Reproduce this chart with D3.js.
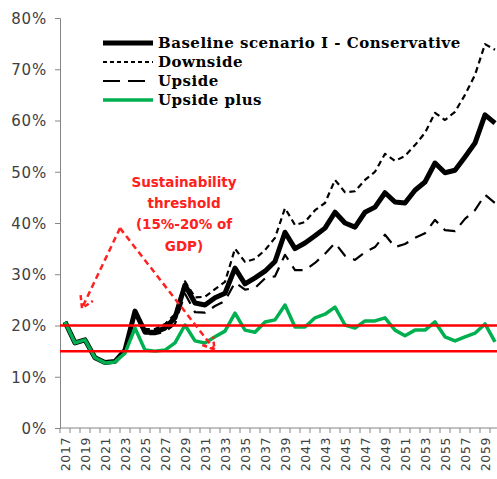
<!DOCTYPE html>
<html>
<head>
<meta charset="utf-8">
<script src="https://cdn.jsdelivr.net/npm/d3@7"></script>
<style>
  html, body { margin: 0; padding: 0; background: #fff; }
  svg { display: block; }
</style>
</head>
<body>
<svg id="chart" width="497" height="479"></svg>
<script>
const years = [2017,2018,2019,2020,2021,2022,2023,2024,2025,2026,2027,2028,2029,2030,2031,2032,2033,2034,2035,2036,2037,2038,2039,2040,2041,2042,2043,2044,2045,2046,2047,2048,2049,2050,2051,2052,2053,2054,2055,2056,2057,2058,2059,2060];

const baseline = [20.7,16.6,17.2,13.7,12.8,13.0,15.2,22.8,18.7,18.7,19.5,21.5,27.9,24.4,24.0,25.4,26.3,31.2,28.1,29.3,30.6,32.5,38.2,35.0,36.1,37.5,39.0,42.1,40.0,39.2,42.1,43.1,45.9,44.1,43.9,46.4,48.0,51.7,49.8,50.3,52.9,55.6,61.1,59.5];

const downside = [20.7,16.6,17.2,13.7,12.8,13.0,15.2,22.8,19.3,19.3,20.3,22.2,28.6,25.5,25.6,27.1,28.5,35.0,32.4,33.0,34.7,37.1,42.9,39.6,40.2,42.5,43.9,48.4,46.0,46.2,48.4,50.0,53.5,52.1,53.1,55.2,57.6,61.5,60.1,61.7,65.0,68.9,74.9,73.8];

const upside = [20.7,16.6,17.2,13.7,12.8,13.0,15.2,22.8,18.3,18.3,18.8,20.3,26.2,22.6,22.5,23.8,24.8,28.4,27.0,27.3,29.2,29.6,33.8,30.8,30.8,32.2,34.0,36.1,33.6,32.8,34.3,35.3,37.7,35.3,35.9,37.1,38.0,40.6,38.6,38.4,40.8,42.5,45.5,43.9];

const upsidePlus = [20.7,16.6,17.2,13.7,12.7,12.9,14.6,19.5,15.2,15.0,15.2,16.6,20.1,17.0,16.6,17.8,18.9,22.4,19.1,18.7,20.7,21.1,24.0,19.7,19.7,21.5,22.2,23.6,20.1,19.5,20.9,20.9,21.5,19.1,18.0,19.1,19.1,20.7,17.8,17.0,17.8,18.5,20.3,16.8];

const seriesNames = ["Baseline scenario I - Conservative","Downside","Upside","Upside plus"];
const yTicks = [0,10,20,30,40,50,60,70,80];
const xLabelYears = [2017,2019,2021,2023,2025,2027,2029,2031,2033,2035,2037,2039,2041,2043,2045,2047,2049,2051,2053,2055,2057,2059];
const thresholds = [15,20];
const annotationLines = ["Sustainability","threshold","(15%-20% of","GDP)"];

const svg = d3.select("#chart");
const W = 497, H = 479;

const x = d3.scaleBand().domain(years).range([60, 500]).padding(0);
const xc = d => x(d) + x.bandwidth()/2;
const xi = d3.scaleLinear().domain([0, years.length]).range([60, 500]);
const y = d3.scaleLinear().domain([0, 80]).range([428, 18]);

// Y axis
const yAxis = d3.axisLeft(y).tickValues(yTicks).tickFormat(d => d + "%").tickSize(5).tickPadding(8);
const gy = svg.append("g").attr("transform", "translate(60,0)").call(yAxis);
gy.select(".domain").attr("stroke", "#868686").attr("stroke-width", 1);
gy.selectAll(".tick line").attr("stroke", "#868686");
gy.selectAll("text").attr("font-family", "DejaVu Sans, Verdana, sans-serif").attr("font-size", "15px")
  .attr("letter-spacing", "0.8px").attr("fill", "#404040").attr("dy", "0.35em");

// X axis line and ticks
const gx = svg.append("g");
gx.append("line").attr("x1", 60).attr("x2", 500).attr("y1", y(0)).attr("y2", y(0)).attr("stroke", "#868686");
gx.selectAll("line.tk").data(years.concat([null])).join("line").attr("class","tk")
  .attr("x1", (d,i) => i < years.length ? x(d) : 500)
  .attr("x2", (d,i) => i < years.length ? x(d) : 500)
  .attr("y1", y(0)).attr("y2", y(0) + 5).attr("stroke", "#868686");
gx.selectAll("text").data(xLabelYears).join("text")
  .attr("transform", d => `translate(${xc(d) + 4.5},${y(0) + 9}) rotate(-90)`)
  .attr("text-anchor", "end")
  .attr("font-family", "DejaVu Sans, Verdana, sans-serif")
  .attr("font-size", "12.5px")
  .attr("letter-spacing", "0.6px")
  .attr("fill", "#404040")
  .text(d => d);

const line = d3.line().x((d,i) => xc(years[i])).y(d => y(d));

const styles = [
  {data: baseline, stroke: "#000", width: 5, dash: null},
  {data: downside, stroke: "#000", width: 2.2, dash: "6,4"},
  {data: upside, stroke: "#000", width: 2.2, dash: "12,8"},
  {data: upsidePlus, stroke: "#00B050", width: 3.5, dash: null}
];

[1,2,0,3].forEach(k => {
  const s = styles[k];
  svg.append("path").datum(s.data).attr("d", line)
    .attr("fill", "none").attr("stroke", s.stroke).attr("stroke-width", s.width)
    .attr("stroke-linejoin", "round")
    .attr("stroke-dasharray", s.dash);
});

// threshold lines
svg.selectAll("line.thr").data(thresholds).join("line").attr("class","thr")
  .attr("x1", 60).attr("x2", W).attr("y1", d => y(d)).attr("y2", d => y(d))
  .attr("stroke", "#FF0000").attr("stroke-width", 2.5);

// legend
const lg = svg.append("g");
seriesNames.forEach((name, i) => {
  const s = styles[i];
  const yy = 43 + i * 19;
  lg.append("line").attr("x1", 103).attr("x2", 153).attr("y1", yy).attr("y2", yy)
    .attr("stroke", s.stroke).attr("stroke-width", s.width)
    .attr("stroke-dasharray", i === 1 ? "4,3" : (i === 2 ? "17,8" : null));
  lg.append("text").attr("x", 158).attr("y", yy).attr("dy", "0.35em")
    .attr("font-family", "DejaVu Serif, serif").attr("font-weight", "bold")
    .attr("font-size", "15px").attr("letter-spacing", "0.5px").attr("fill", "#000").text(name);
});

// annotation
const red = "#FF2020";
const ann = svg.append("g");
annotationLines.forEach((t, i) => {
  ann.append("text").attr("x", 184).attr("y", 182 + i * 21.3).attr("dy", "0.35em")
    .attr("text-anchor", "middle")
    .attr("font-family", "DejaVu Sans, Verdana, sans-serif").attr("font-weight", "bold")
    .attr("font-size", "13.5px").attr("fill", red).text(t);
});
const apex = [xi(6.0), y(39.0)];
const tips = [[xi(2.2), y(23.4)], [xi(15.45), y(15.3)]];
tips.forEach(tp => {
  ann.append("line").attr("x1", apex[0]).attr("y1", apex[1]).attr("x2", tp[0]).attr("y2", tp[1])
    .attr("stroke", red).attr("stroke-width", 2.5).attr("stroke-dasharray", "6,4");
  const ang = Math.atan2(tp[1] - apex[1], tp[0] - apex[0]);
  const L = 13, a = 0.55;
  const p1 = [tp[0] - L*Math.cos(ang - a), tp[1] - L*Math.sin(ang - a)];
  const p2 = [tp[0] - L*Math.cos(ang + a), tp[1] - L*Math.sin(ang + a)];
  ann.append("path").attr("d", `M${p1[0]},${p1[1]}L${tp[0]},${tp[1]}L${p2[0]},${p2[1]}`)
    .attr("fill", "none").attr("stroke", red).attr("stroke-width", 2.5).attr("stroke-dasharray", "5,3");
});
</script>
</body>
</html>
